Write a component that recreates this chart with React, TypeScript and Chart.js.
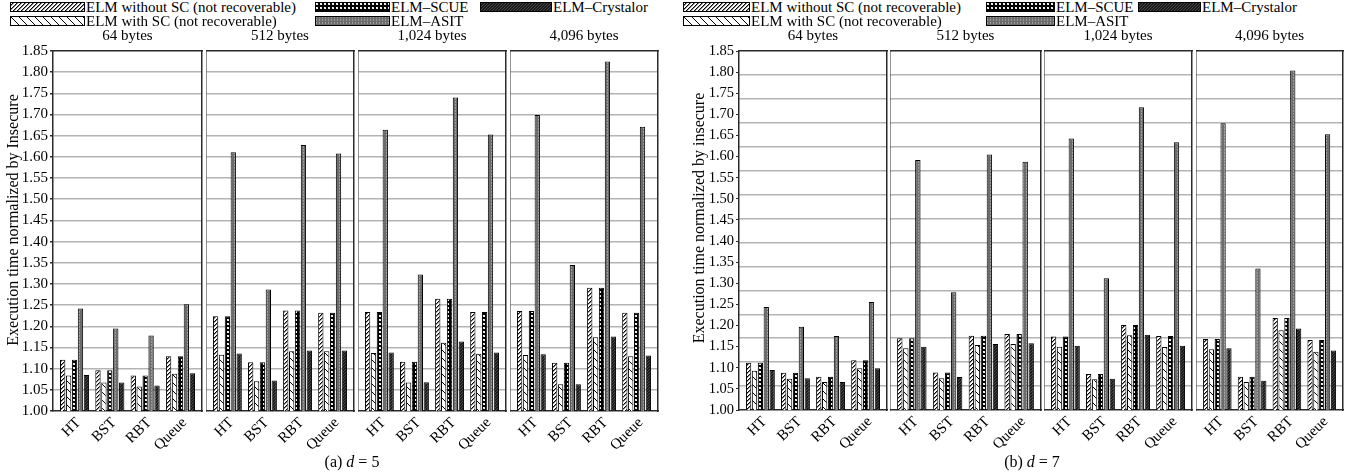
import React, { useEffect, useRef } from 'react';
import { Chart, registerables } from 'chart.js';

Chart.register(...registerables);

const FONT = '"Liberation Serif", "Times New Roman", serif';
const FRAME = '#2a2a2a';
const GRID = '#b4b4b4';

const categories = ['HT', 'BST', 'RBT', 'Queue'];
const sizeLabels = ['64 bytes', '512 bytes', '1,024 bytes', '4,096 bytes'];
const seriesNames = [
  'ELM without SC (not recoverable)',
  'ELM with SC (not recoverable)',
  'ELM\u2013SCUE',
  'ELM\u2013ASIT',
  'ELM\u2013Crystalor',
];
const yLabels = ['Execution time normalized by Insecure', 'Execution time normalized by insecure'];
const captions = [['(a) ', 'd', ' = 5'], ['(b) ', 'd', ' = 7']];

// rows: 64, 512, 1,024, 4,096 bytes; columns: HT, BST, RBT, Queue
// (a) d = 5
const d5WithoutSC = [
  [1.121, 1.096, 1.084, 1.129],
  [1.224, 1.115, 1.237, 1.232],
  [1.234, 1.116, 1.265, 1.234],
  [1.236, 1.114, 1.291, 1.232],
];
const d5WithSC = [
  [1.084, 1.067, 1.058, 1.088],
  [1.133, 1.070, 1.141, 1.141],
  [1.137, 1.067, 1.161, 1.135],
  [1.132, 1.063, 1.174, 1.129],
];
const d5SCUE = [
  [1.121, 1.096, 1.084, 1.129],
  [1.224, 1.115, 1.237, 1.232],
  [1.234, 1.116, 1.265, 1.234],
  [1.236, 1.114, 1.291, 1.232],
];
const d5ASIT = [
  [1.242, 1.195, 1.178, 1.252],
  [1.611, 1.287, 1.628, 1.608],
  [1.664, 1.322, 1.740, 1.653],
  [1.699, 1.345, 1.825, 1.671],
];
const d5Crystalor = [
  [1.085, 1.067, 1.060, 1.089],
  [1.136, 1.072, 1.143, 1.143],
  [1.138, 1.068, 1.164, 1.138],
  [1.134, 1.063, 1.176, 1.131],
];

// (b) d = 7
const d7WithoutSC = [
  [1.112, 1.088, 1.079, 1.118],
  [1.170, 1.089, 1.176, 1.180],
  [1.174, 1.085, 1.201, 1.175],
  [1.168, 1.079, 1.218, 1.166],
];
const d7WithSC = [
  [1.093, 1.074, 1.066, 1.099],
  [1.146, 1.075, 1.154, 1.156],
  [1.150, 1.073, 1.177, 1.149],
  [1.144, 1.066, 1.189, 1.138],
];
const d7SCUE = [
  [1.112, 1.088, 1.079, 1.118],
  [1.170, 1.089, 1.176, 1.180],
  [1.174, 1.085, 1.201, 1.175],
  [1.168, 1.079, 1.218, 1.166],
];
const d7ASIT = [
  [1.244, 1.197, 1.175, 1.256],
  [1.592, 1.279, 1.605, 1.588],
  [1.643, 1.312, 1.717, 1.634],
  [1.679, 1.335, 1.804, 1.653],
];
const d7Crystalor = [
  [1.095, 1.075, 1.066, 1.099],
  [1.150, 1.078, 1.156, 1.158],
  [1.152, 1.074, 1.178, 1.152],
  [1.146, 1.069, 1.193, 1.141],
];

const seriesByHalf = [
  [d5WithoutSC, d5WithSC, d5SCUE, d5ASIT, d5Crystalor],
  [d7WithoutSC, d7WithSC, d7SCUE, d7ASIT, d7Crystalor],
];

const Y_MIN = 1.0;
const Y_MAX = 1.85;
const Y_STEP = 0.05;

// ---------- layout (pixels) ----------
const TITLE_H = 25;
const XH = 50;
const PADR = 2;
const HALVES = [
  {
    top: 51, bottom: 411, yw: 53, tickSize: 15,
    boxes: [[53, 202], [206, 354], [358, 506], [510, 658]],
    ytitle: { cx: 12.5, cy: 220 },
    caption: { cx: 352, cy: 462 },
    legendFont: 15,
    legend: [
      { s: 0, x: 10, row: 0, w: 75 }, { s: 2, x: 315, row: 0, w: 75 }, { s: 4, x: 480, row: 0, w: 72 },
      { s: 1, x: 10, row: 1, w: 75 }, { s: 3, x: 315, row: 1, w: 75 },
    ],
  },
  {
    top: 51, bottom: 410, yw: 57, tickSize: 14.5,
    boxes: [[739, 887], [890, 1041], [1044, 1192], [1196, 1343]],
    ytitle: { cx: 699, cy: 218 },
    caption: { cx: 1032, cy: 462 },
    legendFont: 15,
    legend: [
      { s: 0, x: 683, row: 0, w: 67 }, { s: 2, x: 986, row: 0, w: 69 }, { s: 4, x: 1138, row: 0, w: 63 },
      { s: 1, x: 683, row: 1, w: 67 }, { s: 3, x: 986, row: 1, w: 69 },
    ],
  },
];
const ROW_Y = [2, 16];
const SW_H = 10;

const PANELS: { half: number; idx: number }[] = [];
for (let h = 0; h < 2; h++) for (let p = 0; p < 4; p++) PANELS.push({ half: h, idx: p });

function makeTile(kind: number): HTMLCanvasElement {
  const c = document.createElement('canvas');
  const px = (g: CanvasRenderingContext2D, x: number, y: number, col: string) => {
    g.fillStyle = col;
    g.fillRect(x, y, 1, 1);
  };
  let n = 4;
  if (kind === 1) n = 8;
  if (kind === 3 || kind === 4) n = 3;
  c.width = n;
  c.height = n;
  const g = c.getContext('2d')!;
  if (kind === 0) {
    g.fillStyle = '#fff';
    g.fillRect(0, 0, n, n);
    for (let x = 0; x < n; x++) for (let y = 0; y < n; y++) {
      const m = (x + y) % 4;
      if (m === 3) px(g, x, y, '#000');
      else if (m === 0) px(g, x, y, '#8a8a8a');
    }
  } else if (kind === 1) {
    g.fillStyle = '#fff';
    g.fillRect(0, 0, n, n);
    for (let x = 0; x < n; x++) for (let y = 0; y < n; y++) {
      if (((x - y) % n + n) % n === 0) px(g, x, y, '#000');
    }
  } else if (kind === 2) {
    g.fillStyle = '#000';
    g.fillRect(0, 0, n, n);
    px(g, 1, 1, '#fff');
    px(g, 2, 1, '#ddd');
    px(g, 1, 2, '#ddd');
    px(g, 2, 2, '#fff');
  } else if (kind === 3) {
    g.fillStyle = '#6c6c6c';
    g.fillRect(0, 0, n, n);
    px(g, 1, 0, '#a4a4a4');
    px(g, 1, 1, '#959595');
  } else {
    g.fillStyle = '#1b1b1b';
    g.fillRect(0, 0, n, n);
    for (let x = 0; x < n; x++) for (let y = 0; y < n; y++) {
      if ((x + y) % 3 === 2) px(g, x, y, '#474747');
    }
  }
  return c;
}

const edgeTransparent = (c: any) => {
  const v = c.tick ? c.tick.value : null;
  if (v === null || Math.abs(v - Y_MIN) < 1e-6 || Math.abs(v - Y_MAX) < 1e-6) return 'rgba(0,0,0,0)';
  return GRID;
};

function buildConfig(half: number, p: number, patterns: (CanvasPattern | string)[]): any {
  const H = HALVES[half];
  const first = p === 0;
  const series = seriesByHalf[half];
  const datasets = series.map((arr, si) => ({
    label: seriesNames[si],
    data: arr[p].map((v, i) => ({ x: i, y: v })),
    backgroundColor: patterns[si],
    borderColor: '#000',
    borderWidth: 1,
    barPercentage: 0.9,
    categoryPercentage: 0.84,
    xAxisID: 'x',
    yAxisID: 'y',
  }));
  const gridCount = 15;
  const scales: any = {
    x: {
      type: 'linear',
      position: 'bottom',
      min: -0.61,
      max: 3.61,
      offset: false,
      grid: { display: false, offset: false, drawTicks: false, tickLength: 0 },
      border: { display: true, color: FRAME, width: 1.5 },
      afterBuildTicks: (s: any) => {
        s.ticks = categories.map((_, i) => ({ value: i }));
      },
      ticks: {
        autoSkip: false,
        minRotation: 45,
        maxRotation: 45,
        padding: 3,
        labelOffset: 4,
        color: '#000',
        font: { family: FONT, size: 15 },
        callback: (v: any) => categories[Math.round(Number(v))] ?? '',
      },
      afterFit: (s: any) => {
        s.height = XH;
      },
    },
    x2: {
      type: 'linear',
      position: 'top',
      min: -0.61,
      max: 3.61,
      offset: false,
      grid: { display: false },
      ticks: { display: false },
      border: { display: true, color: FRAME, width: 1.5 },
      afterFit: (s: any) => {
        s.height = 0;
      },
    },
    y: {
      type: 'linear',
      position: 'left',
      min: Y_MIN,
      max: Y_MAX,
      ticks: {
        display: first,
        stepSize: Y_STEP,
        padding: 2,
        color: '#000',
        font: { family: FONT, size: H.tickSize },
        callback: (v: any) => Number(v).toFixed(2),
      },
      grid:
        half === 0
          ? { display: true, color: edgeTransparent, lineWidth: 1.5, drawTicks: first, tickLength: 3, tickColor: FRAME }
          : { display: true, drawOnChartArea: false, drawTicks: first, tickLength: 3, tickColor: FRAME },
      border: { display: true, color: FRAME, width: 1.5 },
      afterFit: (s: any) => {
        s.width = first ? H.yw : 0;
      },
    },
    y2: {
      type: 'linear',
      position: 'right',
      min: Y_MIN,
      max: Y_MAX,
      grid: { display: false },
      ticks: { display: false },
      border: { display: true, color: FRAME, width: 1.5 },
      afterFit: (s: any) => {
        s.width = 0;
      },
    },
  };
  if (half === 1) {
    scales.yg = {
      type: 'linear',
      position: 'left',
      min: Y_MIN,
      max: Y_MAX,
      afterBuildTicks: (s: any) => {
        const t: any[] = [];
        for (let i = 0; i <= gridCount; i++) t.push({ value: Y_MIN + ((Y_MAX - Y_MIN) * i) / gridCount });
        s.ticks = t;
      },
      ticks: { display: false },
      grid: { display: true, color: edgeTransparent, lineWidth: 1.5, drawTicks: false },
      border: { display: false },
      afterFit: (s: any) => {
        s.width = 0;
      },
    };
  }
  return {
    type: 'bar',
    data: { datasets },
    options: {
      animation: false,
      responsive: false,
      maintainAspectRatio: false,
      devicePixelRatio: 1,
      layout: { padding: { left: 0, right: PADR, top: 0, bottom: 0 } },
      plugins: {
        legend: { display: false },
        tooltip: { enabled: false },
        title: {
          display: true,
          text: sizeLabels[p],
          fullSize: false,
          color: '#000',
          font: { family: FONT, size: 15, weight: 'normal', lineHeight: '16px' },
          padding: { top: 2, bottom: 7 },
        },
      },
      scales,
    },
  };
}

export default function App() {
  const chartRefs = useRef<(HTMLCanvasElement | null)[]>([]);
  const swatchRefs = useRef<(HTMLCanvasElement | null)[]>([]);

  useEffect(() => {
    const charts: Chart[] = [];
    PANELS.forEach((pn, k) => {
      const cv = chartRefs.current[k];
      if (!cv) return;
      const ctx = cv.getContext('2d')!;
      const patterns = [0, 1, 2, 3, 4].map((kind) => ctx.createPattern(makeTile(kind), 'repeat') || '#888');
      charts.push(new Chart(cv, buildConfig(pn.half, pn.idx, patterns)));
    });
    let n = 0;
    HALVES.forEach((H) => {
      H.legend.forEach((it) => {
        const cv = swatchRefs.current[n++];
        if (!cv) return;
        const g = cv.getContext('2d')!;
        const pat = g.createPattern(makeTile(it.s), 'repeat');
        g.fillStyle = pat || '#888';
        g.fillRect(0, 0, cv.width, cv.height);
        g.strokeStyle = '#000';
        g.lineWidth = 1;
        g.strokeRect(0.5, 0.5, cv.width - 1, cv.height - 1);
      });
    });
    return () => {
      charts.forEach((c) => c.destroy());
    };
  }, []);

  const chartEls: React.ReactNode[] = [];
  PANELS.forEach((pn, k) => {
    const H = HALVES[pn.half];
    const [l, r] = H.boxes[pn.idx];
    const first = pn.idx === 0;
    const left = l - (first ? H.yw : 0);
    const width = r - l + (first ? H.yw : 0) + PADR;
    const top = H.top - TITLE_H;
    const height = H.bottom - H.top + TITLE_H + XH;
    chartEls.push(
      <canvas
        key={'c' + k}
        ref={(el) => {
          chartRefs.current[k] = el;
        }}
        width={width}
        height={height}
        style={{ position: 'absolute', left, top, width, height }}
      />
    );
  });

  const legendEls: React.ReactNode[] = [];
  let n = 0;
  HALVES.forEach((H, h) => {
    H.legend.forEach((it) => {
      const idx = n++;
      const y = ROW_Y[it.row];
      legendEls.push(
        <canvas
          key={'s' + idx}
          ref={(el) => {
            swatchRefs.current[idx] = el;
          }}
          width={it.w}
          height={SW_H}
          style={{ position: 'absolute', left: it.x, top: y, width: it.w, height: SW_H }}
        />
      );
      legendEls.push(
        <div
          key={'t' + idx}
          style={{
            position: 'absolute',
            left: it.x + it.w + 1,
            top: y + SW_H / 2 - 8,
            height: 16,
            lineHeight: '16px',
            fontSize: H.legendFont,
            fontFamily: FONT,
            color: '#000',
            whiteSpace: 'nowrap',
          }}
        >
          {seriesNames[it.s]}
        </div>
      );
    });
    legendEls.push(
      <div
        key={'yt' + h}
        style={{
          position: 'absolute',
          left: H.ytitle.cx - 170,
          top: H.ytitle.cy - 10,
          width: 340,
          height: 20,
          lineHeight: '20px',
          textAlign: 'center',
          fontSize: 16,
          fontFamily: FONT,
          color: '#000',
          transform: 'rotate(-90deg)',
          transformOrigin: '50% 50%',
          whiteSpace: 'nowrap',
        }}
      >
        {yLabels[h]}
      </div>
    );
    legendEls.push(
      <div
        key={'cap' + h}
        style={{
          position: 'absolute',
          left: H.caption.cx - 100,
          top: H.caption.cy - 10,
          width: 200,
          height: 20,
          lineHeight: '20px',
          textAlign: 'center',
          fontSize: 16,
          fontFamily: FONT,
          color: '#000',
          whiteSpace: 'pre',
        }}
      >
        {captions[h][0]}
        <i>{captions[h][1]}</i>
        {captions[h][2]}
      </div>
    );
  });

  return (
    <div
      style={{
        position: 'absolute',
        left: 0,
        top: 0,
        width: 1364,
        height: 476,
        overflow: 'hidden',
        background: '#fff',
      }}
    >
      {chartEls}
      {legendEls}
    </div>
  );
}
